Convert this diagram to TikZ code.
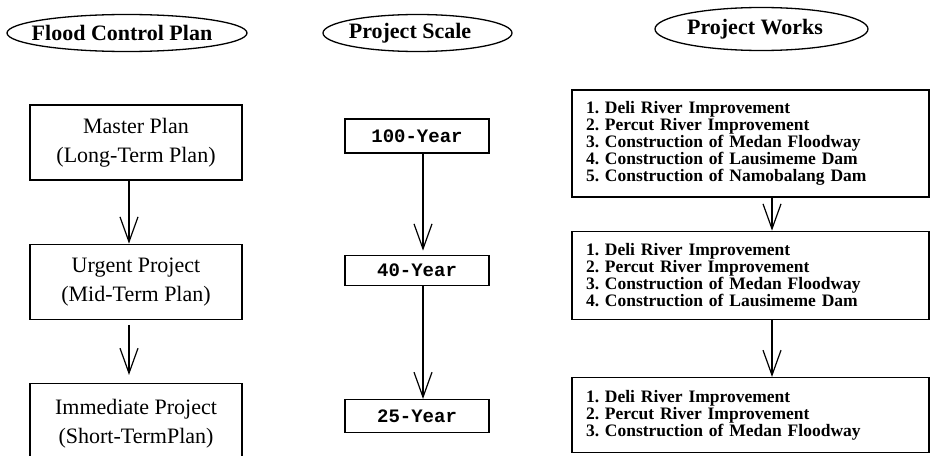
\documentclass[tikz,border=0pt]{standalone}
\usepackage{fontspec}
\setmainfont{Liberation Serif}
\setmonofont{Liberation Mono}
\usetikzlibrary{positioning,arrows.meta}
\frenchspacing
\tikzset{
    headtxt/.style={font=\fontsize{22}{24}\selectfont\bfseries,inner sep=0pt},
    ring/.style={line width=1.3pt},
    planbox/.style={rectangle,draw,line width=1.3pt,minimum width=212pt,minimum height=75pt,align=center,font=\fontsize{22}{29}\selectfont},
    scalebox/.style={rectangle,draw,line width=1.3pt,minimum width=144pt,font=\fontsize{19}{20}\selectfont\ttfamily\bfseries},
    worksbox/.style={rectangle,draw,line width=1.3pt,text width=329pt,inner xsep=14pt,inner ysep=0pt,align=left,font=\fontsize{17.5}{17}\selectfont\bfseries},
    edge/.style={-{Straight Barb[length=25pt,width=18pt,line width=1.2pt]},line width=1.2pt},
}

\begin{document}
\begin{tikzpicture}[x=1pt,y=1pt,node distance=60pt]
\useasboundingbox (0,0) rectangle (933,-455);

% headings
\node[headtxt] (fcp) at (122,-33) {Flood Control Plan};
\node[headtxt] (psc) at (410,-33) {Project Scale};
\node[headtxt] (pwk) at (755,-29) {Project Works};
\draw[ring] ([xshift=5pt]fcp.center) ellipse [x radius=120pt, y radius=18.5pt];
\draw[ring] ([xshift=7.5pt]psc.center) ellipse [x radius=94.5pt, y radius=18.5pt];
\draw[ring] ([xshift=6.5pt]pwk.center) ellipse [x radius=106.5pt, y radius=21.5pt];

% flood control plan
\node[planbox] (master) at (136,-142.5) {Master Plan\\(Long-Term Plan)};
\node[planbox,below=63pt of master] (urgent) {Urgent Project\\(Mid-Term Plan)};
\node[planbox,minimum height=80pt,below=63pt of urgent] (immed) {Immediate Project\\(Short-TermPlan)};

% project scale
\node[scalebox,minimum height=34pt] (y100) at (417,-136) {100-Year};
\node[scalebox,minimum height=30pt,below=101pt of y100] (y40) {40-Year};
\node[scalebox,minimum height=33pt,below=113pt of y40] (y25) {25-Year};

% project works
\node[worksbox,minimum height=107pt] (wk5) at (750.5,-143.5) {1. Deli River Improvement\\2. Percut River Improvement\\3. Construction of Medan Floodway\\4. Construction of Lausimeme Dam\\5. Construction of Namobalang Dam};
\node[worksbox,minimum height=88pt,below=33pt of wk5] (wk4) {1. Deli River Improvement\\2. Percut River Improvement\\3. Construction of Medan Floodway\\4. Construction of Lausimeme Dam};
\node[worksbox,minimum height=75pt,below=57pt of wk4] (wk3) {1. Deli River Improvement\\2. Percut River Improvement\\3. Construction of Medan Floodway};

\draw[edge] ([xshift=-7pt]master.south) -- ([xshift=-7pt]urgent.north);
\draw[edge,shorten <=5pt,shorten >=8pt] ([xshift=-7pt]urgent.south) -- ([xshift=-7pt]immed.north);
\draw[edge,shorten >=4pt] ([xshift=6pt]y100.south) -- ([xshift=6pt]y40.north);
\draw[edge] ([xshift=6pt]y40.south) -- ([xshift=6pt]y25.north);
\draw[edge] ([xshift=21.5pt]wk5.south) -- ([xshift=21.5pt]wk4.north);
\draw[edge] ([xshift=21.5pt]wk4.south) -- ([xshift=21.5pt]wk3.north);
\end{tikzpicture}
\end{document}
